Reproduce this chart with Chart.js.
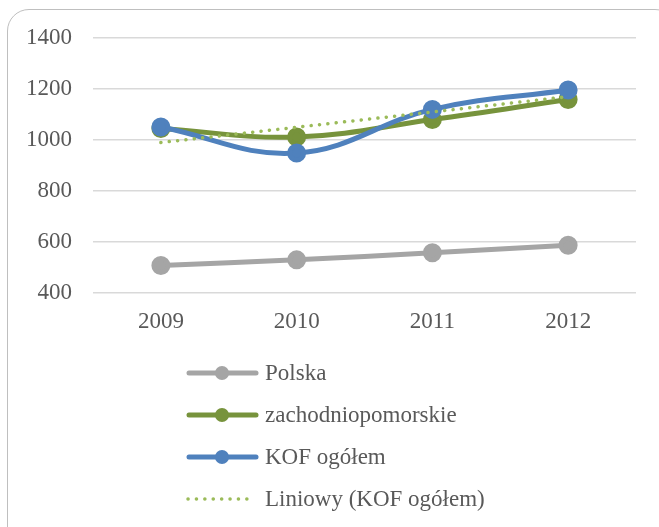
<!DOCTYPE html>
<html>
<head>
<meta charset="utf-8">
<script src="https://cdn.jsdelivr.net/npm/chart.js@4.4.1/dist/chart.umd.min.js"></script>
<style>
    html, body { margin: 0; padding: 0; background: #fff; }
    #wrap { position: relative; width: 659px; height: 527px; overflow: hidden; }
    #frame {
        position: absolute; left: 7px; top: 9px; width: 670px; height: 540px;
        border: 1.5px solid #BFBFBF; border-radius: 22px; box-sizing: border-box;
    }
    #chart { position: absolute; left: 0; top: 0; }
</style>
</head>
<body>
<div id="wrap">
    <div id="frame"></div>
    <canvas id="chart" width="659" height="527"></canvas>
</div>
<script>
const years = ['2009', '2010', '2011', '2012'];
const polska = [508, 530, 558, 587];
const zachodniopomorskie = [1045, 1012, 1080, 1159];
const kofOgolem = [1051, 949, 1120, 1196];
const kofTrend = [990, 1050, 1110, 1170];

const seriesNames = ['Polska', 'zachodniopomorskie', 'KOF ogółem', 'Liniowy (KOF ogółem)'];

const fontFamily = "'Liberation Serif', 'Times New Roman', serif";
const textColor = '#595959';

// legend drawn as a vertical list below the plot
const listLegend = {
    id: 'listLegend',
    afterDraw(chart) {
        const ctx = chart.ctx;
        ctx.save();
        chart.data.datasets.forEach((ds, i) => {
            const y = 373 + i * 42;
            ctx.strokeStyle = ds.borderColor;
            ctx.lineWidth = ds.borderWidth;
            ctx.lineCap = 'round';
            if (ds.borderDash) {
                ctx.setLineDash(ds.borderDash);
                ctx.beginPath();
                ctx.moveTo(188, y);
                ctx.lineTo(252, y);
                ctx.stroke();
                ctx.setLineDash([]);
            } else {
                ctx.beginPath();
                ctx.moveTo(189, y);
                ctx.lineTo(256, y);
                ctx.stroke();
                ctx.fillStyle = ds.pointBackgroundColor;
                ctx.beginPath();
                ctx.arc(222, y, ds.pointRadius, 0, Math.PI * 2);
                ctx.fill();
            }
            ctx.fillStyle = textColor;
            ctx.font = '23px ' + fontFamily;
            ctx.textBaseline = 'middle';
            ctx.textAlign = 'left';
            ctx.fillText(ds.label, 265, y + 1);
        });
        ctx.restore();
    }
};

const ctx = document.getElementById('chart').getContext('2d');
const myChart = new Chart(ctx, {
    type: 'line',
    plugins: [listLegend],
    data: {
        labels: years,
        datasets: [
            {
                label: seriesNames[0],
                data: polska,
                borderColor: '#A5A5A5',
                backgroundColor: '#A5A5A5',
                pointBackgroundColor: '#A5A5A5',
                pointBorderColor: '#A5A5A5',
                borderWidth: 5,
                pointRadius: 7,
                tension: 0.4,
                order: 3,
            },
            {
                label: seriesNames[1],
                data: zachodniopomorskie,
                borderColor: '#77933C',
                backgroundColor: '#77933C',
                pointBackgroundColor: '#77933C',
                pointBorderColor: '#77933C',
                borderWidth: 5,
                pointRadius: 7,
                tension: 0.4,
                order: 2,
            },
            {
                label: seriesNames[2],
                data: kofOgolem,
                borderColor: '#4F81BD',
                backgroundColor: '#4F81BD',
                pointBackgroundColor: '#4F81BD',
                pointBorderColor: '#4F81BD',
                borderWidth: 5,
                pointRadius: 7,
                tension: 0.4,
                order: 1,
            },
            {
                label: seriesNames[3],
                data: kofTrend,
                borderColor: '#9BBB59',
                backgroundColor: '#9BBB59',
                borderWidth: 3.5,
                borderDash: [0.1, 8.3],
                borderCapStyle: 'round',
                pointRadius: 0,
                tension: 0,
                order: 0,
            }
        ]
    },
    options: {
        responsive: false,
        animation: false,
        layout: {
            padding: { left: 0, right: 23, top: 38, bottom: 184 }
        },
        plugins: {
            legend: { display: false },
            tooltip: { enabled: false },
        },
        scales: {
            x: {
                offset: true,
                grid: { display: false, drawTicks: false },
                border: { display: false },
                afterFit: (scale) => { scale.height = 50; },
                ticks: {
                    padding: 15,
                    color: textColor,
                    font: { family: fontFamily, size: 23 },
                },
            },
            y: {
                min: 400,
                max: 1400,
                grid: {
                    color: '#D9D9D9',
                    lineWidth: 1.5,
                    drawTicks: false,
                },
                border: { display: false },
                afterFit: (scale) => { scale.width = 93; },
                ticks: {
                    stepSize: 200,
                    padding: 21,
                    color: textColor,
                    font: { family: fontFamily, size: 23 },
                    callback: function(value) {
                        return String(value);
                    }
                },
            }
        }
    }
});
</script>
</body>
</html>
